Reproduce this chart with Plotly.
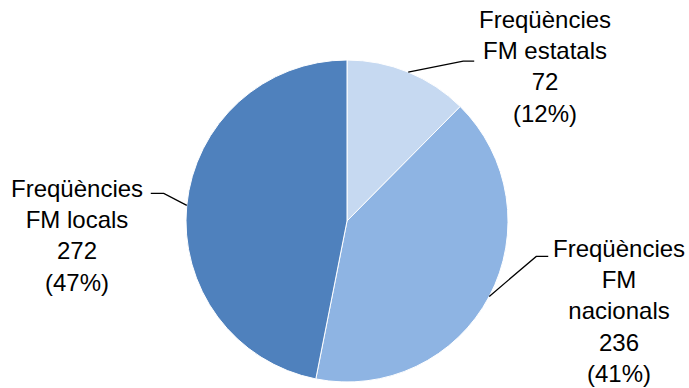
import math
import plotly.graph_objects as go

# Data
categories = ["Freqüències<br>FM estatals", "Freqüències<br>FM<br>nacionals", "Freqüències<br>FM locals"]
values = [72, 236, 272]
colors = ["#C6D9F1", "#8EB4E3", "#4F81BD"]

W, H = 689, 388
cx, cy, r = 347, 221, 161  # pie centre and radius in pixels

# Label placement: elbow offset from slice edge, tail length, label centre (px)
label_layout = [
    dict(elbow=(55, -11), tail=11, center=(545, 66)),
    dict(elbow=(47, -40), tail=12, center=(619, 311)),
    dict(elbow=(-23, -12), tail=-13, center=(77, 236)),
]

def px(x):
    return x / W

def py(y):
    return 1 - y / H

fig = go.Figure(go.Pie(
    values=values,
    labels=[c.replace("<br>", " ") for c in categories],
    sort=False,
    direction="clockwise",
    rotation=0,
    marker=dict(colors=colors, line=dict(color="white", width=1)),
    textinfo="none",
    hoverinfo="skip",
    showlegend=False,
    domain=dict(x=[px(cx - r), px(cx + r)], y=[py(cy + r), py(cy - r)]),
))

total = sum(values)
shapes, annotations = [], []
start = 0.0
for cat, val, lay in zip(categories, values, label_layout):
    mid = (start + val / 2) / total * 2 * math.pi
    start += val
    ax = cx + r * math.sin(mid)
    ay = cy - r * math.cos(mid)
    ex, ey = ax + lay["elbow"][0], ay + lay["elbow"][1]
    tx = ex + lay["tail"]
    path = f"M {px(ax)} {py(ay)} L {px(ex)} {py(ey)} L {px(tx)} {py(ey)}"
    shapes.append(dict(type="path", path=path, xref="paper", yref="paper",
                       line=dict(color="black", width=1.3)))
    pct = round(val / total * 100)
    annotations.append(dict(
        text=f"{cat}<br>{val}<br>({pct}%)",
        x=px(lay["center"][0]), y=py(lay["center"][1]),
        xref="paper", yref="paper", xanchor="center", yanchor="middle",
        showarrow=False, align="center",
        font=dict(family="Liberation Sans", size=24, color="black"),
    ))

fig.update_layout(
    width=W, height=H,
    margin=dict(l=0, r=0, t=0, b=0),
    paper_bgcolor="white", plot_bgcolor="white",
    shapes=shapes, annotations=annotations,
)
fig.write_html("out.html")
